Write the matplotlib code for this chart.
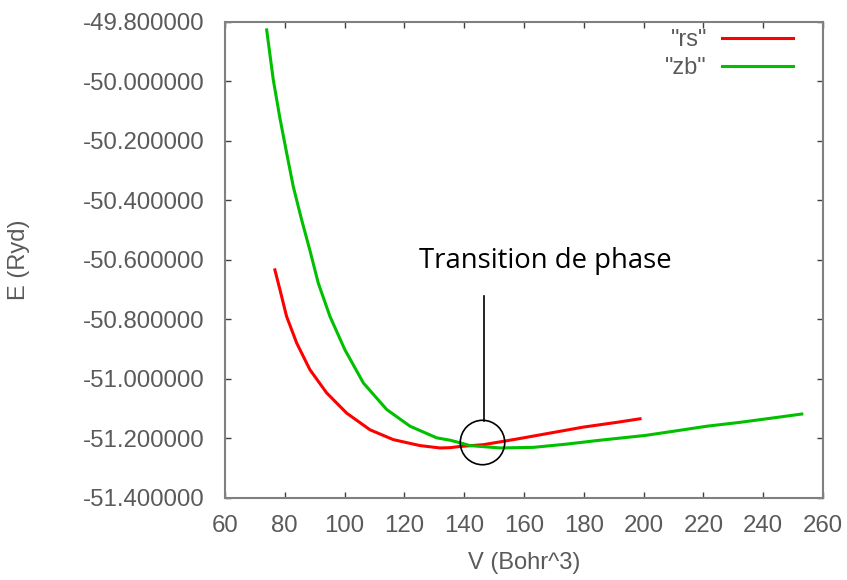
import numpy as np
from matplotlib import pyplot as plt

# courbes E(V)
v_rs = [76.7, 78.4, 80.6, 84.0, 88.4, 94.0, 100.7, 108.5, 116.3, 125.2, 131.9,
        135.3, 138.6, 146.4, 157.6, 168.7, 179.8, 191.0, 198.8]
e_rs = [-50.634, -50.701, -50.790, -50.880, -50.969, -51.047, -51.115, -51.171,
        -51.204, -51.224, -51.232, -51.231, -51.227, -51.221, -51.202, -51.182,
        -51.162, -51.146, -51.134]

v_zb = [73.95, 76.15, 78.39, 80.64, 82.84, 85.65, 88.5, 91.2, 95.1, 100.1, 106.3,
        114.1, 121.9, 130.8, 135.3, 138.0, 141.9, 152.0, 163.1, 174.3, 185.4,
        200.5, 209.9, 221.1, 232.2, 243.4, 252.9]
e_zb = [-49.828, -49.995, -50.125, -50.242, -50.354, -50.466, -50.572, -50.678,
        -50.790, -50.902, -51.014, -51.103, -51.159, -51.198, -51.206, -51.213,
        -51.224, -51.232, -51.230, -51.219, -51.206, -51.19, -51.176, -51.159,
        -51.146, -51.131, -51.118]

x_ticks = [60, 80, 100, 120, 140, 160, 180, 200, 220, 240, 260]
y_ticks = [-51.4, -51.2, -51.0, -50.8, -50.6, -50.4, -50.2, -50.0, -49.8]

# annotation
trans_v, trans_e = 145.9, -51.213
text_v, text_e = 167.0, -50.628
line_top_e = -50.72

gray = '#5a5a5a'
plt.rcParams['font.family'] = ['Liberation Sans', 'DejaVu Sans']

fig = plt.figure(figsize=(8.47, 5.8), dpi=100)
ax = fig.add_axes([0.2656, 0.1414, 0.7061, 0.8214])

ax.plot(v_rs, e_rs, color='#ff0000', lw=2.2, label='"rs"')
ax.plot(v_zb, e_zb, color='#00c000', lw=2.2, label='"zb"')

ax.set_xlim(60, 260)
ax.set_ylim(-51.4, -49.8)
ax.set_xticks(x_ticks)
ax.set_yticks(y_ticks)
ax.set_yticklabels(['%.6f' % y for y in y_ticks])

for s in ax.spines.values():
    s.set_color('#808080')
    s.set_linewidth(1.5)
ax.tick_params(direction='in', length=4, width=1, color='#404040',
               top=True, right=True, labelsize=17.3, labelcolor=gray)
ax.tick_params(axis='y', pad=15)
ax.tick_params(axis='x', pad=12)

ax.set_xlabel('V (Bohr^3)', fontsize=17, color=gray, labelpad=11)
ax.set_ylabel('E (Ryd)', fontsize=17, color=gray, labelpad=38)

# cercle + trait + texte
ax.plot(trans_v, trans_e, 'o', ms=32, mfc='none', mec='black', mew=1.2)
ax.plot([trans_v + 0.6, trans_v + 0.6], [line_top_e, trans_e + 0.07], color='black', lw=1.2)
ax.text(text_v, text_e, 'Transition de phase', fontsize=19.8, family=['Open Sans', 'DejaVu Sans'],
        ha='center', va='baseline', color='black')

leg = ax.legend(loc='upper right', bbox_to_anchor=(0.950, 0.984), frameon=False,
                markerfirst=False, fontsize=17, handlelength=3.0,
                handletextpad=0.65, labelspacing=0.25, borderpad=0, borderaxespad=0)
for t in leg.get_texts():
    t.set_color(gray)

fig.savefig('out.png', dpi=100)
